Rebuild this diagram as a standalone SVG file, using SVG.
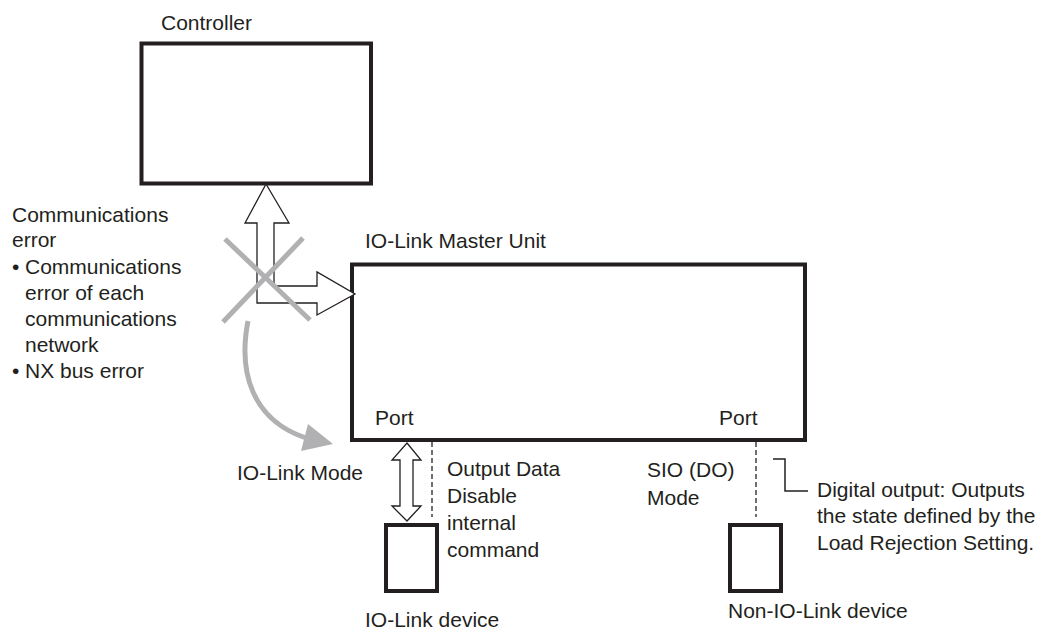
<svg xmlns="http://www.w3.org/2000/svg" width="1041" height="629" viewBox="0 0 1041 629">
<style>
text{font-family:"Liberation Sans",Arial,sans-serif;font-size:21px;fill:#231f20}
.box{fill:#fff;stroke:#231f20;stroke-width:4}
.outline{fill:#fff;stroke:#231f20;stroke-width:1.3;stroke-linejoin:miter}
.dash{fill:none;stroke:#231f20;stroke-width:1.3;stroke-dasharray:5,3}
.gray{fill:none;stroke:#b1b1b3;stroke-width:5}
.thin{fill:none;stroke:#231f20;stroke-width:1.5}
</style>
<rect width="1041" height="629" fill="#fff"/>
<g id="controller">
<rect class="box" x="141.5" y="43.5" width="229.5" height="140"/>
<text x="161" y="30">Controller</text>
</g>
<g id="master">
<rect class="box" x="352" y="264.5" width="453" height="175.5"/>
<text x="365" y="248">IO-Link Master Unit</text>
<text x="375" y="425">Port</text>
<text x="719" y="425">Port</text>
</g>
<g id="iolink-device">
<rect class="box" x="386" y="525" width="51" height="66"/>
<text x="365" y="627">IO-Link device</text>
</g>
<g id="non-iolink-device">
<rect class="box" x="730" y="525" width="51" height="66"/>
<text x="728" y="618">Non-IO-Link device</text>
</g>
<g id="connectors">
<polygon class="outline" points="266,184 289,223 274,223 274,286 317,286 317,272 355,294 317,315 317,303 257,303 257,223 245,223"/>
<line class="gray" x1="225" y1="239" x2="310" y2="320"/>
<line class="gray" x1="303" y1="238" x2="223" y2="322"/>
<path class="gray" d="M248,321 C238,372 252,420 306,438"/>
<polygon points="308,424 333,444 301,451" fill="#b1b1b3"/>
<polygon class="outline" points="407,443 421,460 413,460 413,506 421,506 407,521 392,506 400,506 400,460 392,460"/>
<line class="dash" x1="432" y1="442" x2="432" y2="517"/>
<line class="dash" x1="756" y1="442" x2="756" y2="517"/>
<polyline class="thin" points="773,459 785,459 785,491 808,491"/>
</g>
<g id="labels">
<text x="12" y="222">Communications</text>
<text x="12" y="247">error</text>
<text x="12" y="274">•</text>
<text x="25" y="274">Communications</text>
<text x="25" y="300">error of each</text>
<text x="25" y="326">communications</text>
<text x="25" y="352">network</text>
<text x="12" y="378">•</text>
<text x="25" y="378">NX bus error</text>
<text x="237" y="480">IO-Link Mode</text>
<text x="447" y="476">Output Data</text>
<text x="447" y="503">Disable</text>
<text x="447" y="530">internal</text>
<text x="447" y="557">command</text>
<text x="647" y="477">SIO (DO)</text>
<text x="647" y="505">Mode</text>
<text x="817" y="497">Digital output: Outputs</text>
<text x="817" y="523">the state defined by the</text>
<text x="817" y="550">Load Rejection Setting.</text>
</g>
</svg>
